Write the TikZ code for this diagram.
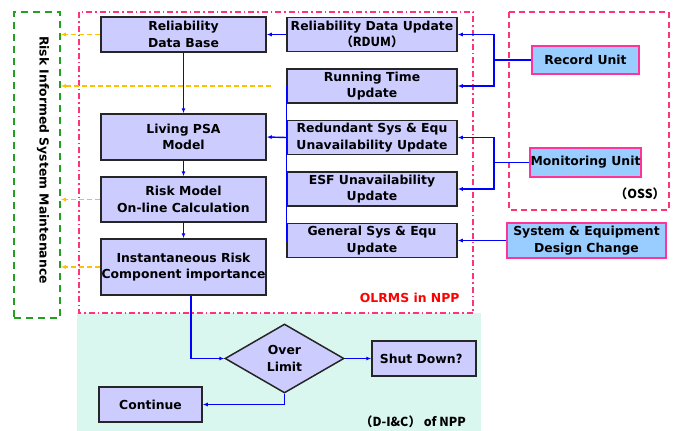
\documentclass[tikz,border=0pt]{standalone}
\usepackage{fontspec}
\setmainfont{DejaVu Sans}
\newfontfamily\cjk{Noto Sans CJK SC}
\usetikzlibrary{shapes.geometric,arrows.meta,positioning}
\definecolor{boxfill}{HTML}{CCCCFF}
\definecolor{boxline}{HTML}{262626}
\definecolor{unitfill}{HTML}{99CCFF}
\definecolor{unitline}{HTML}{FF3399}
\definecolor{linkblue}{HTML}{0000FF}
\definecolor{warnorange}{HTML}{FFC000}
\definecolor{frampink}{HTML}{FF3377}
\definecolor{framgreen}{HTML}{22A022}
\definecolor{dicteal}{HTML}{D9F7EF}

\begin{document}
\begin{tikzpicture}[x=1pt, y=1pt, node distance=51.5pt, font=\bfseries\fontsize{12.4}{16.5}\selectfont]
    \tikzstyle{arrow} = [line width=1.4pt, draw=linkblue, ->, >= {Latex[length=5pt,width=4pt]}]
    \tikzstyle{wire} = [line width=1.4pt, draw=linkblue]
    \tikzstyle{oarrow} = [line width=1.4pt, draw=warnorange, dash pattern=on 5pt off 3pt, ->, >= {Latex[length=5pt,width=4pt]}]
    \tikzstyle{box} = [rectangle, minimum width=165pt, minimum height=35pt, inner sep=0.5pt, align=center, fill=boxfill, draw=boxline, line width=1.5pt]
    \tikzstyle{upd} = [box, minimum width=170pt, minimum height=34pt]
    \tikzstyle{unit} = [box, fill=unitfill, draw=unitline, line width=1.2pt]
    \useasboundingbox (0,0) rectangle (673,-431);

    % frames
    \fill[dicteal] (77,-313) rectangle (481,-431);
    \draw[frampink, line width=1.5pt, dash pattern=on 6pt off 3pt on 1.5pt off 3pt] (79,-12) rectangle (473,-313);
    \draw[frampink, line width=1.5pt, dash pattern=on 6pt off 4pt] (509,-12) rectangle (669,-210);
    \node[draw=framgreen, line width=1.5pt, dash pattern=on 7pt off 5pt, minimum width=46pt, minimum height=306pt, inner sep=0pt](rism) at (37,-165){};
    \node[rotate=-90](rismlbl) at (43,-160){Risk Informed System Maintenance};

    % OLRMS
    \node[box](rdb) at (183.5,-34.5){Reliability\\Data Base};
    \node[box, below of = rdb, yshift = -51pt, minimum height=46pt](psa){Living PSA\\Model};
    \node[box, below of = psa, yshift = -11pt, minimum height=45pt](rmc){Risk Model\\On-line Calculation};
    \node[box, below of = rmc, yshift = -16pt, minimum height=56pt](irc){Instantaneous Risk\\Component importance};
    \node[upd, right of = rdb, xshift = 137pt](rdum){Reliability Data Update\\\cjk{（}RDUM\cjk{）}};
    \node[upd, below of = rdum](rtu){Running Time\\Update};
    \node[upd, below of = rtu](rsu){Redundant Sys \& Equ\\Unavailability Update};
    \node[upd, below of = rsu](esf){ESF Unavailability\\Update};
    \node[upd, below of = esf](gsu){General Sys \& Equ\\Update};
    \node[text=red, anchor=east](olrmslbl) at (463,-298){OLRMS in NPP};

    % OSS
    \node[unit, right of = rdum, xshift = 162pt, yshift = -25.5pt, minimum width=107pt, minimum height=28pt](rec){Record Unit};
    \node[unit, below of = rec, yshift = -51pt, minimum width=107pt, minimum height=29pt](mon){Monitoring Unit};
    \node(osslbl) at (640,-194){\cjk{（}OSS\cjk{）}};
    \node[unit, right of = gsu, xshift = 163pt, minimum width=159pt](sedc){System \& Equipment\\Design Change};

    % D-I&C
    \node[diamond, fill=boxfill, draw=boxline, line width=1.5pt, minimum width=119pt, minimum height=69pt, inner sep=0pt, align=center](lim) at (284.5,-358.5){Over\\Limit};
    \node[box, right of = lim, xshift = 88pt, minimum width=104pt](shut){Shut Down\cjk{？}};
    \node[box, minimum width=103pt](cont) at (150.5,-404.5){Continue};
    \node(diclbl) at (413,-422){\cjk{（}D-I\&C\cjk{）} of NPP};

    \coordinate (recj) at (494,-60);
    \coordinate (monj) at (494,-162.5);

    \draw[arrow] (rdum.west)--(rdb.east);
    \draw[arrow] (rdb.south)--(psa.north);
    \draw[arrow] (psa)--(rmc);
    \draw[arrow] (rmc)--(irc);
    \draw[wire] (rtu.west)--(gsu.west);
    \draw[arrow] (rsu.west)--(psa.east);
    \draw[wire] (rec.west)--(recj);
    \draw[arrow] (recj)|-(rdum.east);
    \draw[arrow] (recj)|-(rtu.east);
    \draw[wire] (mon.west)--(monj);
    \draw[arrow] (monj)|-(rsu.east);
    \draw[arrow] (monj)|-(esf.east);
    \draw[arrow] (sedc.west)--(gsu.east);
    \draw[arrow] ([xshift=7.5pt]irc.south)|-(lim.west);
    \draw[arrow] (lim.east)--(shut.west);
    \draw[arrow] (lim.south)|-(cont.east);

    \draw[oarrow] (rdb.west)--(rdb.west -| rism.east);
    \draw[oarrow] ([xshift=-15pt]rtu.west)--(rtu.west -| rism.east);
    \draw[oarrow] (rmc.west)--(rmc.west -| rism.east);
    \draw[oarrow] (irc.west)--(irc.west -| rism.east);
\end{tikzpicture}
\end{document}
